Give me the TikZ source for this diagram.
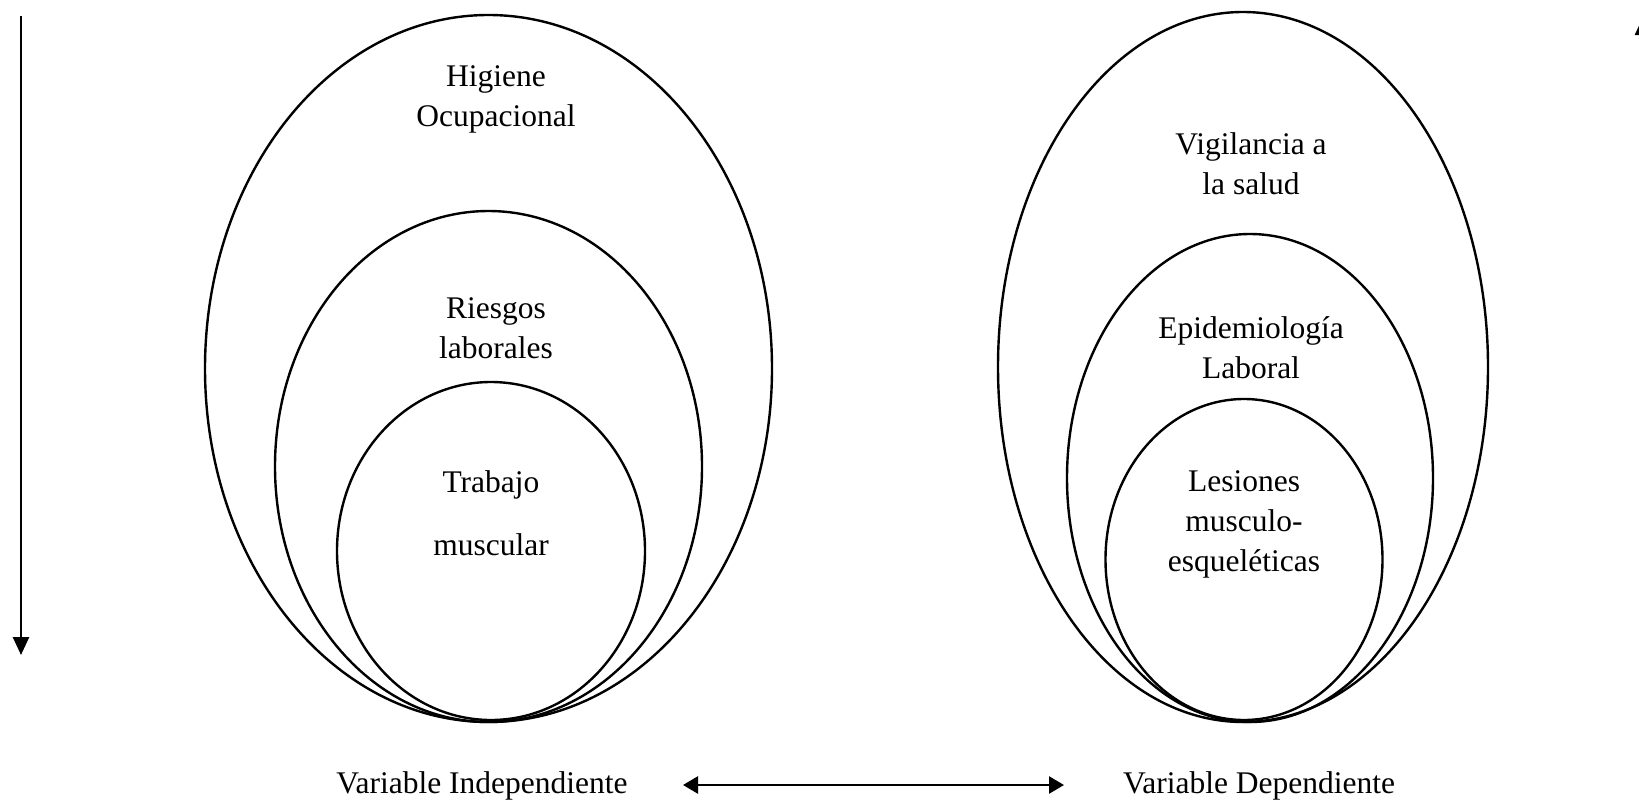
\documentclass[tikz,border=0pt]{standalone}
\usepackage{fontspec}
\setmainfont{Liberation Serif}
\usetikzlibrary{shapes.geometric,arrows.meta}
\tikzset{
  oval/.style={draw, ellipse, line width=2.4pt, inner sep=0pt},
  lbl/.style={align=center, font=\fontsize{31.5}{40}\selectfont, inner sep=0pt},
  arr/.style={line width=2.6pt, -{Triangle[length=18pt,width=16pt]}},
  darr/.style={line width=2.6pt, {Triangle[length=15pt,width=17pt]}-{Triangle[length=15pt,width=17pt]}}
}
\begin{document}
\begin{tikzpicture}[x=1pt,y=-1pt]
\useasboundingbox (0,0) rectangle (1639,803);
% left set of ellipses
\node[oval, minimum width=567pt, minimum height=707pt] (lbig) at (488.5,368.5) {};
\node[oval, minimum width=427pt, minimum height=511pt] (lmid) at (488.5,466.5) {};
\node[oval, minimum width=308pt, minimum height=338pt] (lin) at (491,551) {};
% right set of ellipses
\node[oval, minimum width=490pt, minimum height=710pt] (rbig) at (1243,367) {};
\node[oval, minimum width=366pt, minimum height=488pt] (rmid) at (1250,478) {};
\node[oval, minimum width=277pt, minimum height=321pt] (rin) at (1244,559.5) {};
% labels
\node[lbl] (t1) at (496,99) {Higiene\\Ocupacional};
\node[lbl] (t2) at (496,328) {Riesgos\\laborales};
\node[lbl] (t3) at (491,513) {Trabajo\\[23pt]muscular};
\node[lbl] (t4) at (1251,164) {Vigilancia a\\la salud};
\node[lbl] (t5) at (1251,348) {Epidemiología\\Laboral};
\node[lbl] (t6) at (1244,524) {Lesiones\\musculo-\\esqueléticas};
\node[lbl] (vi) at (482,786) {Variable Independiente};
\node[lbl] (vd) at (1259,786) {Variable Dependiente};
% arrows
\coordinate (v1) at (21,16);
\coordinate (v2) at (21,655);
\draw[arr] (v1) -- (v2);
\coordinate (h1) at (683,785);
\coordinate (h2) at (1064,785);
\draw[darr] (h1) -- (h2);
\coordinate (u1) at (1643,80);
\coordinate (u2) at (1643,17);
\draw[arr] (u1) -- (u2);
\end{tikzpicture}
\end{document}
